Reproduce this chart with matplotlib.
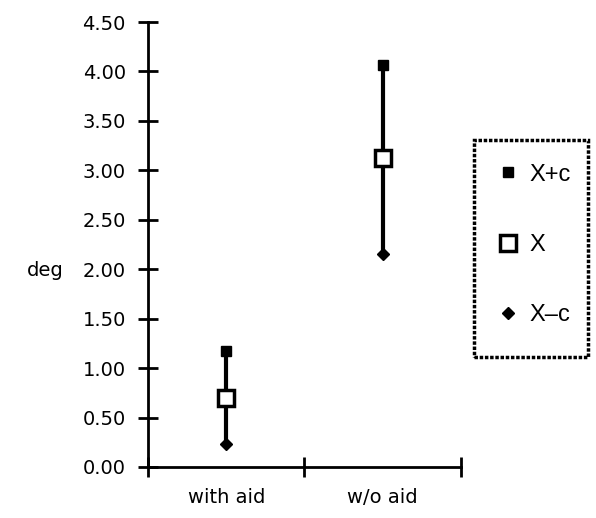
import matplotlib
matplotlib.use("Agg")
import matplotlib.pyplot as plt
from matplotlib.patches import Rectangle

categories = ["with aid", "w/o aid"]
x_plus_c = [1.17, 4.07]
x_mean = [0.70, 3.12]
x_minus_c = [0.23, 2.15]
yticks = [0.0, 0.5, 1.0, 1.5, 2.0, 2.5, 3.0, 3.5, 4.0, 4.5]

plt.rcParams['font.family'] = ['DejaVu Sans']
fig = plt.figure(figsize=(5.96, 5.18), dpi=100)
ax = fig.add_axes([0.2483, 0.0985, 0.7735 - 0.2483, 0.9575 - 0.0985])

pos = [0.5, 1.5]
for i in range(len(categories)):
    ax.plot([pos[i], pos[i]], [x_minus_c[i], x_plus_c[i]], color='black', lw=3, zorder=1)

ax.plot(pos, x_plus_c, linestyle='none', marker='s', ms=7.5, mfc='black', mec='black', label='X+c', zorder=3)
ax.plot(pos, x_mean, linestyle='none', marker='s', ms=12, mfc='white', mec='black', mew=2.5, label='X', zorder=3)
ax.plot(pos, x_minus_c, linestyle='none', marker='D', ms=6.5, mfc='black', mec='black', label='X\u2013c', zorder=3)

ax.set_xlim(0, 2)
ax.set_ylim(0, 4.5)
ax.set_yticks(yticks)
ax.set_yticklabels([f"{v:.2f}" for v in yticks], fontsize=14)
ax.set_xticks([0, 1, 2])
ax.set_xticklabels([])
ax.set_xticks(pos, minor=True)
ax.set_xticklabels(categories, minor=True, fontsize=14)
ax.tick_params(axis='x', which='minor', length=0, pad=15)
ax.tick_params(axis='both', which='major', direction='inout', length=14, width=2)
ax.tick_params(axis='y', pad=9)
for s in ['top', 'right']:
    ax.spines[s].set_visible(False)
for s in ['left', 'bottom']:
    ax.spines[s].set_linewidth(2)

fig.text(45 / 596, 1 - 270 / 518, "deg", fontsize=14, ha='center', va='center')

# legend box
fig.patches.append(Rectangle((474 / 596, 1 - 357 / 518), 114 / 596, 217 / 518,
                             transform=fig.transFigure, fill=False, edgecolor='black',
                             lw=2.5, linestyle=(0, (1, 0.5))))
leg = ax.legend(loc='upper left', bbox_to_anchor=(474 / 596, 1 - 140 / 518),
                bbox_transform=fig.transFigure, frameon=False,
                prop={'family': 'Liberation Sans', 'size': 17},
                labelspacing=2.05, borderpad=1.0, handlelength=0.9, handletextpad=0.45,
                borderaxespad=0)

fig.savefig("out.png", dpi=100)
